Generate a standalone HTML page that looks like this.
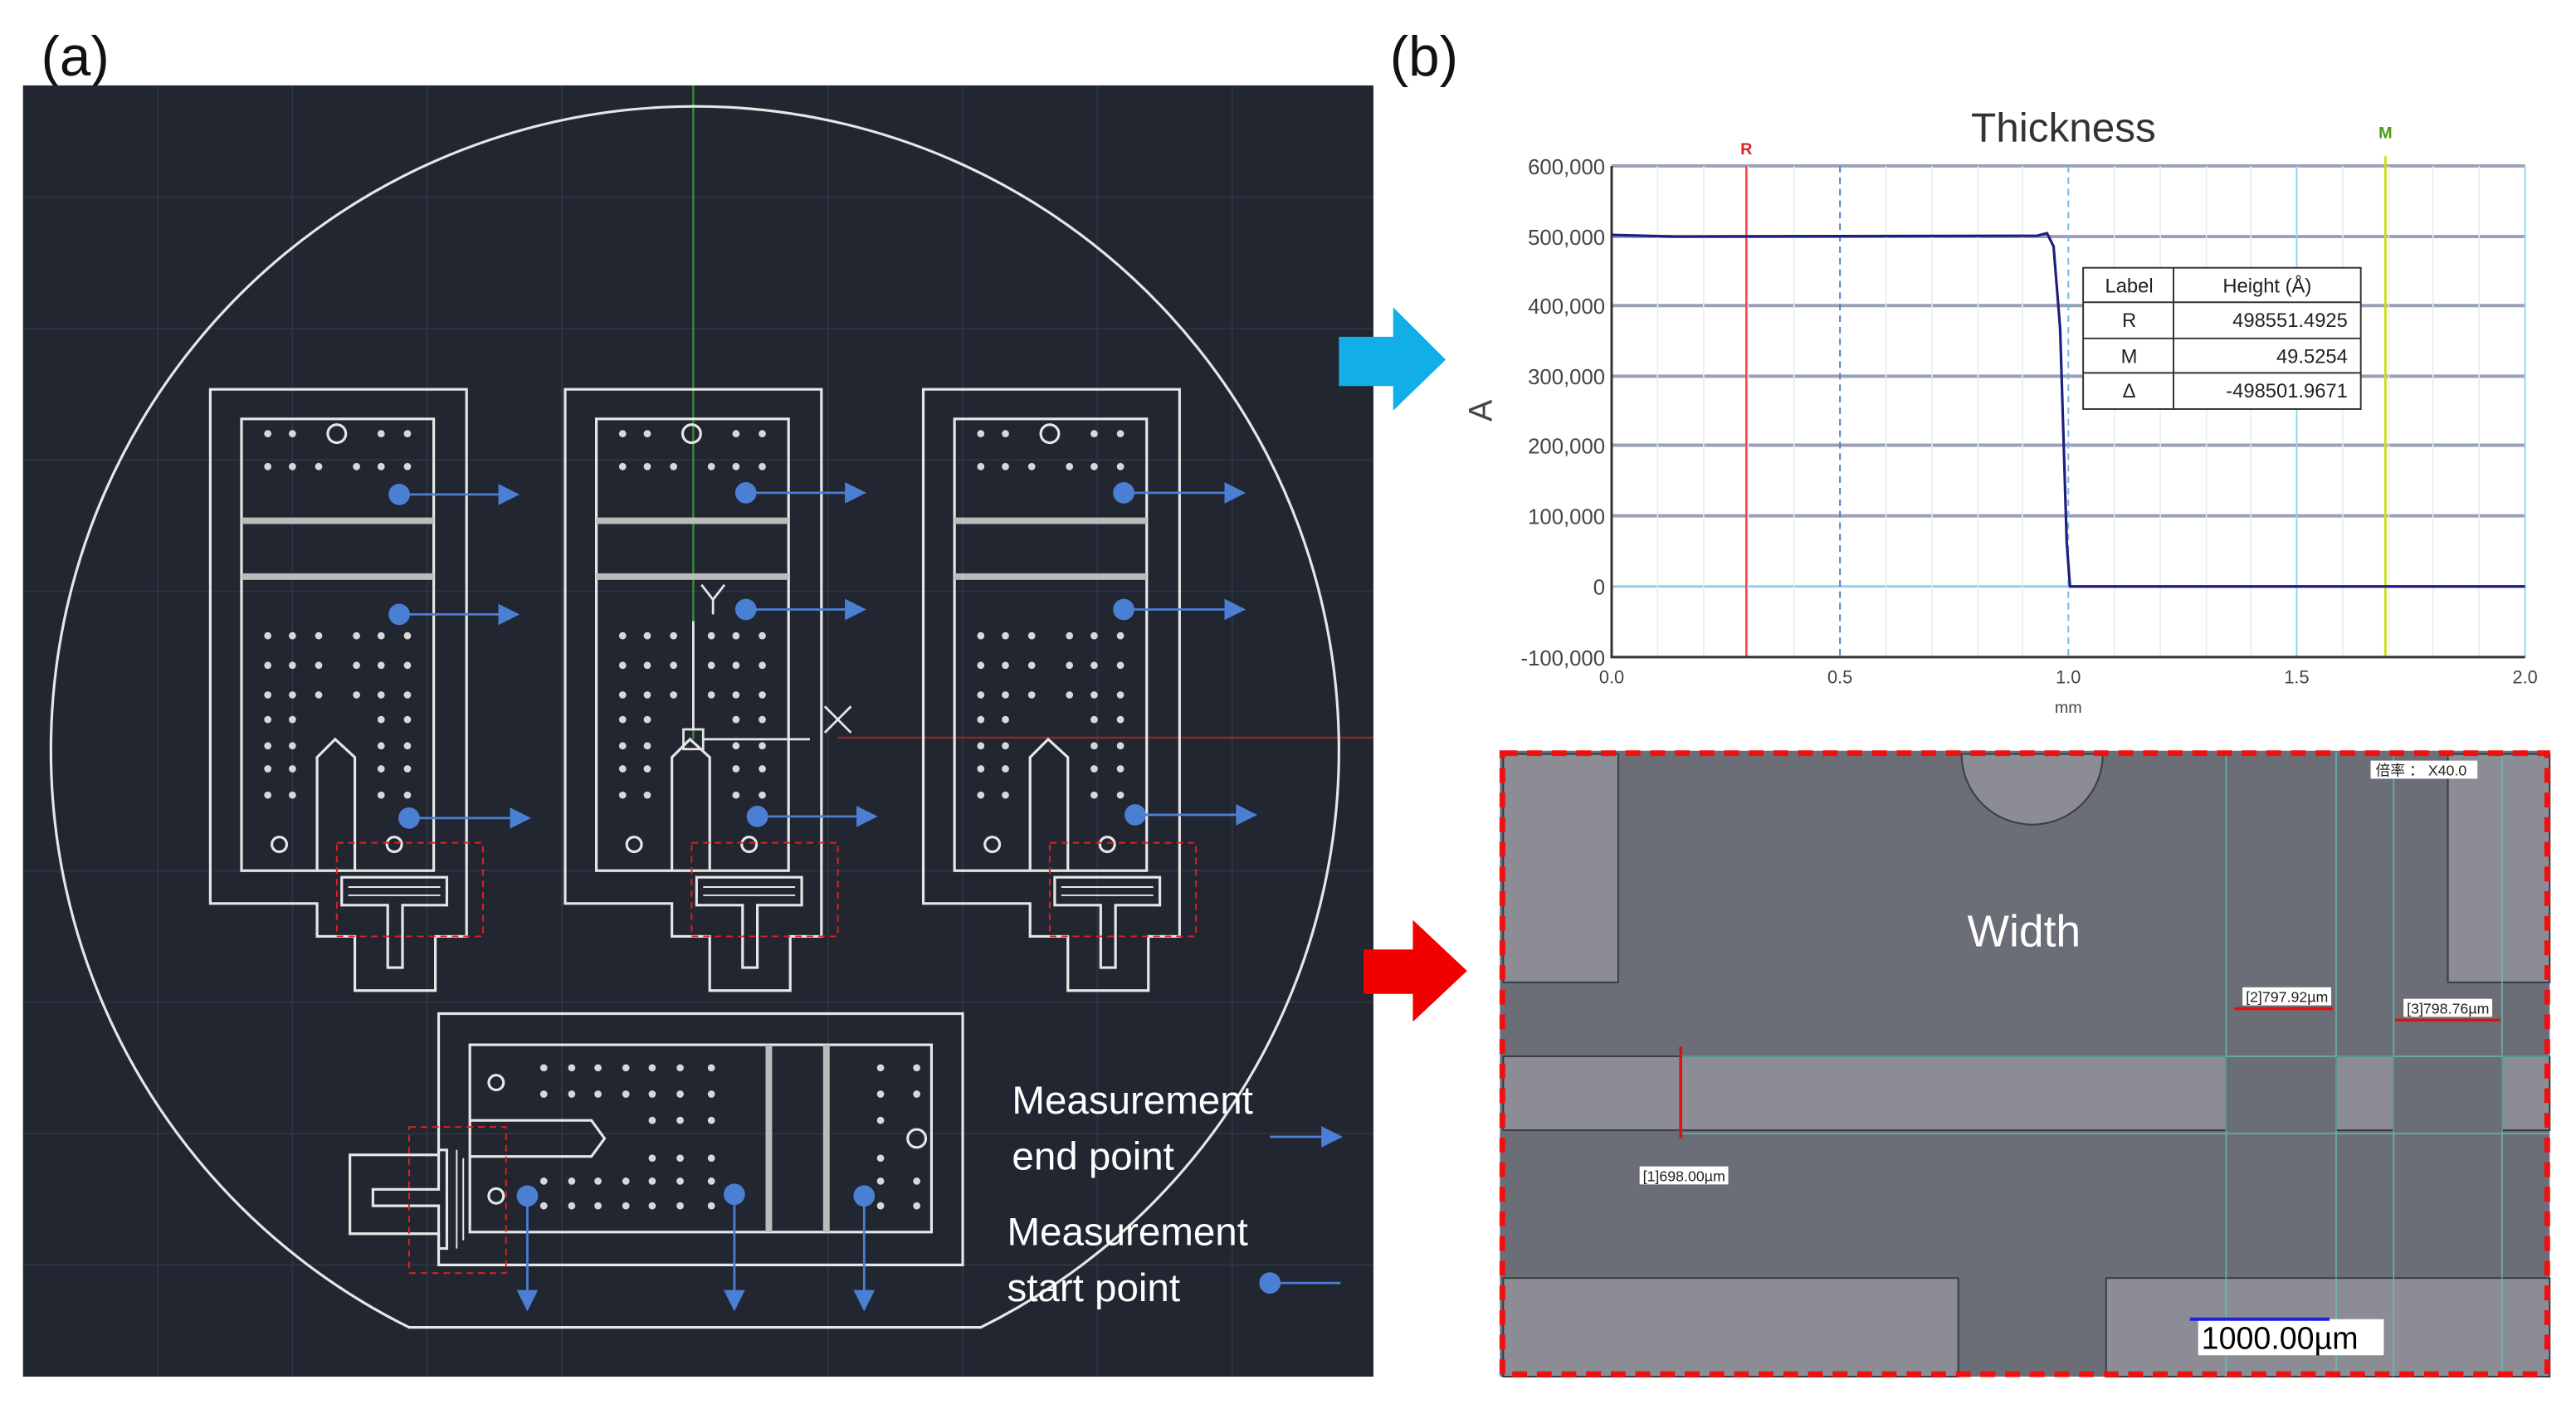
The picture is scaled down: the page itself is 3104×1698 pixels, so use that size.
<!DOCTYPE html>
<html><head><meta charset="utf-8"><style>
html,body{margin:0;padding:0;background:#fff;}
svg{display:block;}
text{font-family:"Liberation Sans","Noto Sans CJK SC",sans-serif;}
</style></head><body>
<svg width="3104" height="1698" viewBox="0 0 1568 857.7" preserveAspectRatio="none" xmlns="http://www.w3.org/2000/svg">
<defs>
<marker id="ah2" viewBox="0 0 10 10" refX="9" refY="5" markerWidth="13" markerHeight="13" markerUnits="userSpaceOnUse" orient="auto"><path d="M0,0 L10,5 L0,10 z" fill="#4a7fd4"/></marker>
<g id="dev" fill="none" stroke="#e6e6e6" stroke-width="1.6">
<polygon points="128,237 284,237 284,570 265,570 265,603 216,603 216,570 193,570 193,550 128,550"/>
<rect x="147" y="255" width="117" height="275"/>
<rect x="147" y="315" width="117" height="4" fill="#bbb" stroke="none"/>
<rect x="147" y="349" width="117" height="4" fill="#bbb" stroke="none"/>
<path d="M193 530 L193 461 L204 450 L216 461 L216 530"/>
<path d="M208 534 H272 V551 H245 V589 H236 V551 H208 Z"/>
<path d="M212 540 H268 M212 545 H268" stroke-width="1"/>
<circle cx="205" cy="264" r="5.5"/>
<circle cx="170" cy="514" r="4.5"/><circle cx="240" cy="514" r="4.5"/>
<g fill="#d8d8d8" stroke="none">
<circle cx="163" cy="264" r="2.2"/><circle cx="178" cy="264" r="2.2"/><circle cx="232" cy="264" r="2.2"/><circle cx="248" cy="264" r="2.2"/>
<circle cx="163" cy="284" r="2.2"/><circle cx="178" cy="284" r="2.2"/><circle cx="194" cy="284" r="2.2"/><circle cx="217" cy="284" r="2.2"/><circle cx="232" cy="284" r="2.2"/><circle cx="248" cy="284" r="2.2"/>
<circle cx="163" cy="387" r="2.2"/><circle cx="178" cy="387" r="2.2"/><circle cx="194" cy="387" r="2.2"/><circle cx="217" cy="387" r="2.2"/><circle cx="232" cy="387" r="2.2"/><circle cx="248" cy="387" r="2.2"/>
<circle cx="163" cy="405" r="2.2"/><circle cx="178" cy="405" r="2.2"/><circle cx="194" cy="405" r="2.2"/><circle cx="217" cy="405" r="2.2"/><circle cx="232" cy="405" r="2.2"/><circle cx="248" cy="405" r="2.2"/>
<circle cx="163" cy="423" r="2.2"/><circle cx="178" cy="423" r="2.2"/><circle cx="194" cy="423" r="2.2"/><circle cx="217" cy="423" r="2.2"/><circle cx="232" cy="423" r="2.2"/><circle cx="248" cy="423" r="2.2"/>
<circle cx="163" cy="438" r="2.2"/><circle cx="178" cy="438" r="2.2"/><circle cx="232" cy="438" r="2.2"/><circle cx="248" cy="438" r="2.2"/>
<circle cx="163" cy="454" r="2.2"/><circle cx="178" cy="454" r="2.2"/><circle cx="232" cy="454" r="2.2"/><circle cx="248" cy="454" r="2.2"/>
<circle cx="163" cy="468" r="2.2"/><circle cx="178" cy="468" r="2.2"/><circle cx="232" cy="468" r="2.2"/><circle cx="248" cy="468" r="2.2"/>
<circle cx="163" cy="484" r="2.2"/><circle cx="178" cy="484" r="2.2"/><circle cx="232" cy="484" r="2.2"/><circle cx="248" cy="484" r="2.2"/>
</g>
<rect x="205" y="513" width="89" height="57" stroke="#e02020" stroke-width="1" stroke-dasharray="4,3"/>
</g>
</defs>

<text x="25" y="46" font-size="34" fill="#111">(a)</text>
<text x="846" y="46" font-size="34" fill="#111">(b)</text>

<rect x="14" y="52" width="822" height="786" fill="#212630"/>
<g stroke="#2d3441" stroke-width="1">
<path d="M96 52V838 M178 52V838 M260 52V838 M342 52V838 M504 52V838 M586 52V838 M668 52V838 M750 52V838 M14 120H836 M14 200H836 M14 280H836 M14 360H836 M14 530H836 M14 610H836 M14 690H836 M14 770H836"/>
</g>
<line x1="422" y1="52" x2="422" y2="450" stroke="#3a8a3a" stroke-width="1.2"/>
<line x1="510" y1="449" x2="836" y2="449" stroke="#8a2a2a" stroke-width="1.2"/>
<path d="M249 808 A392 392 0 1 1 597 808 Z" fill="none" stroke="#e6e6e6" stroke-width="1.6"/>

<use href="#dev"/>
<use href="#dev" x="216"/>
<use href="#dev" x="434"/>

<g stroke="#e6e6e6" stroke-width="1.4" fill="none">
<line x1="422" y1="378" x2="422" y2="444"/>
<rect x="416" y="444" width="12" height="12"/>
<line x1="428" y1="450" x2="493" y2="450"/>
<path d="M502 430 L518 446 M518 430 L502 446"/>
<path d="M427 356 L434 365 L441 356 M434 365 V374"/>
</g>

<g fill="none" stroke="#e6e6e6" stroke-width="1.6">
<polygon points="267,617 586,617 586,770 267,770 267,751 213,751 213,703 267,703"/>
<rect x="286" y="636" width="281" height="114"/>
<rect x="466" y="636" width="4" height="114" fill="#bbb" stroke="none"/>
<rect x="501" y="636" width="4" height="114" fill="#bbb" stroke="none"/>
<path d="M286 682 H360 L368 693 L360 704 H286"/>
<path d="M227 724 H267 V700 H272 V760 H267 V734 H227 Z"/>
<path d="M278 700 V760 M282 705 V755" stroke-width="1"/>
<circle cx="302" cy="659" r="4.5"/><circle cx="302" cy="728" r="4.5"/><circle cx="558" cy="693" r="5.5"/>
<rect x="249" y="686" width="59" height="89" stroke="#e02020" stroke-width="1" stroke-dasharray="4,3"/>
</g>
<g fill="#d8d8d8">
<circle cx="331" cy="650" r="2.2"/><circle cx="348" cy="650" r="2.2"/><circle cx="364" cy="650" r="2.2"/><circle cx="381" cy="650" r="2.2"/><circle cx="397" cy="650" r="2.2"/><circle cx="414" cy="650" r="2.2"/><circle cx="433" cy="650" r="2.2"/>
<circle cx="331" cy="666" r="2.2"/><circle cx="348" cy="666" r="2.2"/><circle cx="364" cy="666" r="2.2"/><circle cx="381" cy="666" r="2.2"/><circle cx="397" cy="666" r="2.2"/><circle cx="414" cy="666" r="2.2"/><circle cx="433" cy="666" r="2.2"/>
<circle cx="397" cy="682" r="2.2"/><circle cx="414" cy="682" r="2.2"/><circle cx="433" cy="682" r="2.2"/>
<circle cx="397" cy="705" r="2.2"/><circle cx="414" cy="705" r="2.2"/><circle cx="433" cy="705" r="2.2"/>
<circle cx="331" cy="719" r="2.2"/><circle cx="348" cy="719" r="2.2"/><circle cx="364" cy="719" r="2.2"/><circle cx="381" cy="719" r="2.2"/><circle cx="397" cy="719" r="2.2"/><circle cx="414" cy="719" r="2.2"/><circle cx="433" cy="719" r="2.2"/>
<circle cx="331" cy="734" r="2.2"/><circle cx="348" cy="734" r="2.2"/><circle cx="364" cy="734" r="2.2"/><circle cx="381" cy="734" r="2.2"/><circle cx="397" cy="734" r="2.2"/><circle cx="414" cy="734" r="2.2"/><circle cx="433" cy="734" r="2.2"/>
<circle cx="536" cy="650" r="2.2"/><circle cx="558" cy="650" r="2.2"/><circle cx="536" cy="666" r="2.2"/><circle cx="558" cy="666" r="2.2"/><circle cx="536" cy="682" r="2.2"/><circle cx="536" cy="705" r="2.2"/><circle cx="536" cy="719" r="2.2"/><circle cx="558" cy="719" r="2.2"/><circle cx="536" cy="734" r="2.2"/><circle cx="558" cy="734" r="2.2"/>
</g>

<g stroke="#4a7fd4" stroke-width="1.4" marker-end="url(#ah2)">
<line x1="243" y1="301" x2="315" y2="301"/><line x1="243" y1="374" x2="315" y2="374"/><line x1="249" y1="498" x2="322" y2="498"/>
<line x1="454" y1="300" x2="526" y2="300"/><line x1="454" y1="371" x2="526" y2="371"/><line x1="461" y1="497" x2="533" y2="497"/>
<line x1="684" y1="300" x2="757" y2="300"/><line x1="684" y1="371" x2="757" y2="371"/><line x1="691" y1="496" x2="764" y2="496"/>
<line x1="321" y1="728" x2="321" y2="797"/><line x1="447" y1="727" x2="447" y2="797"/><line x1="526" y1="728" x2="526" y2="797"/>
<line x1="773" y1="692" x2="816" y2="692"/>
</g>
<g fill="#4a7fd4">
<circle cx="243" cy="301" r="6.5"/><circle cx="243" cy="374" r="6.5"/><circle cx="249" cy="498" r="6.5"/>
<circle cx="454" cy="300" r="6.5"/><circle cx="454" cy="371" r="6.5"/><circle cx="461" cy="497" r="6.5"/>
<circle cx="684" cy="300" r="6.5"/><circle cx="684" cy="371" r="6.5"/><circle cx="691" cy="496" r="6.5"/>
<circle cx="321" cy="728" r="6.5"/><circle cx="447" cy="727" r="6.5"/><circle cx="526" cy="728" r="6.5"/>
<circle cx="773" cy="781" r="6.5"/>
</g>
<line x1="773" y1="781" x2="816" y2="781" stroke="#4a7fd4" stroke-width="1.4"/>
<g fill="#fff" font-size="24">
<text x="616" y="678">Measurement</text><text x="616" y="712">end point</text>
<text x="613" y="758">Measurement</text><text x="613" y="792">start point</text>
</g>

<polygon points="815,205 848,205 848,187 880,219 848,250 848,235 815,235" fill="#12aee8"/>
<polygon points="830,578 860,578 860,560 893,591 860,622 860,605 830,605" fill="#f20000"/>

<text x="1256" y="86" font-size="25" fill="#333" text-anchor="middle">Thickness</text>
<g stroke="#9aa0b8" stroke-width="2">
<path d="M981 101H1537 M981 144H1537 M981 186H1537 M981 229H1537 M981 271H1537 M981 314H1537"/>
</g>
<line x1="981" y1="357" x2="1537" y2="357" stroke="#8fd0ee" stroke-width="1.5"/>
<g stroke="#e6ecf5" stroke-width="0.8"><path d="M1009 101V400 M1037 101V400 M1064 101V400 M1092 101V400 M1148 101V400 M1176 101V400 M1204 101V400 M1231 101V400 M1287 101V400 M1315 101V400 M1343 101V400 M1370 101V400 M1426 101V400 M1454 101V400 M1481 101V400 M1509 101V400"/></g>
<line x1="1120" y1="101" x2="1120" y2="400" stroke="#5a7fc0" stroke-width="1" stroke-dasharray="4,3"/>
<line x1="1259" y1="101" x2="1259" y2="400" stroke="#7ab8e0" stroke-width="1" stroke-dasharray="4,3"/>
<line x1="1398" y1="101" x2="1398" y2="400" stroke="#8fd8f0" stroke-width="1"/>
<line x1="1537" y1="101" x2="1537" y2="400" stroke="#8fd8f0" stroke-width="1"/>
<line x1="1063" y1="101" x2="1063" y2="400" stroke="#f04040" stroke-width="1.2"/>
<line x1="1452" y1="95" x2="1452" y2="400" stroke="#ccdd22" stroke-width="1.5"/>
<text x="1063" y="94" font-size="10" fill="#e02020" text-anchor="middle" font-weight="bold">R</text>
<text x="1452" y="84" font-size="10" fill="#4a9a10" text-anchor="middle" font-weight="bold">M</text>
<path d="M981 101V400H1537" fill="none" stroke="#333" stroke-width="1.5"/>
<path d="M981 143 L1020 144 L1240 143.5 L1246 142 L1250 150 L1254 200 L1258 330 L1260 357 L1537 357" fill="none" stroke="#1e1e80" stroke-width="1.6"/>
<g font-size="13" fill="#444" text-anchor="end">
<text x="977" y="106">600,000</text><text x="977" y="149">500,000</text><text x="977" y="191">400,000</text><text x="977" y="234">300,000</text><text x="977" y="276">200,000</text><text x="977" y="319">100,000</text><text x="977" y="362">0</text><text x="977" y="405">-100,000</text>
</g>
<g font-size="11" fill="#444" text-anchor="middle">
<text x="981" y="416">0.0</text><text x="1120" y="416">0.5</text><text x="1259" y="416">1.0</text><text x="1398" y="416">1.5</text><text x="1537" y="416">2.0</text>
<text x="1259" y="434" font-size="10">mm</text>
</g>
<text x="908" y="250" font-size="20" fill="#444" text-anchor="middle" transform="rotate(-90 908 250)">A</text>
<g>
<rect x="1268" y="163" width="169" height="86" fill="#fff" stroke="#333" stroke-width="1"/>
<path d="M1323 163V249 M1268 184H1437 M1268 206H1437 M1268 227H1437" stroke="#333" stroke-width="1"/>
<g font-size="12" fill="#222">
<text x="1296" y="178" text-anchor="middle">Label</text><text x="1380" y="178" text-anchor="middle">Height (Å)</text>
<text x="1296" y="199" text-anchor="middle">R</text><text x="1429" y="199" text-anchor="end">498551.4925</text>
<text x="1296" y="221" text-anchor="middle">M</text><text x="1429" y="221" text-anchor="end">49.5254</text>
<text x="1296" y="242" text-anchor="middle">Δ</text><text x="1429" y="242" text-anchor="end">-498501.9671</text>
</g>
</g>

<rect x="913" y="457" width="639" height="381" fill="#6c6e77"/>
<g fill="#8b8c94" stroke="#3a3c42" stroke-width="1">
<rect x="915" y="459" width="70" height="139"/>
<rect x="1490" y="459" width="62" height="139"/>
<rect x="915" y="643" width="440" height="45"/>
<rect x="1422" y="643" width="35" height="45"/>
<rect x="1523" y="643" width="29" height="45"/>
<rect x="915" y="778" width="277" height="60"/>
<rect x="1282" y="778" width="270" height="60"/>
<path d="M1194 459 A43 43 0 0 0 1280 459 Z"/>
</g>
<g stroke="#5fc8c0" stroke-width="0.8" opacity="0.8">
<path d="M1355 457V838 M1422 457V838 M1457 457V838 M1523 457V838 M1022 643H1552 M1022 690H1552"/>
</g>
<text x="1232" y="576" font-size="27" fill="#fff" text-anchor="middle">Width</text>
<g stroke="#e01010" stroke-width="1.8">
<line x1="1023" y1="637" x2="1023" y2="693"/><line x1="1360" y1="614" x2="1420" y2="614"/><line x1="1458" y1="621" x2="1522" y2="621"/>
</g>
<g fill="#fff"><rect x="998" y="710" width="54" height="11"/><rect x="1365" y="601" width="54" height="11"/><rect x="1463" y="608" width="54" height="11"/><rect x="1443" y="463" width="65" height="11"/><rect x="1338" y="803" width="113" height="22"/></g>
<g font-size="9" fill="#222"><text x="1000" y="719">[1]698.00µm</text><text x="1367" y="610">[2]797.92µm</text><text x="1465" y="617">[3]798.76µm</text><text x="1446" y="472">倍率 ： X40.0</text></g>
<line x1="1333" y1="803" x2="1418" y2="803" stroke="#2020e0" stroke-width="2"/>
<text x="1340" y="821" font-size="19" fill="#000">1000.00µm</text>
<rect x="914.5" y="458.5" width="636" height="378" fill="none" stroke="#f01010" stroke-width="3.5" stroke-dasharray="9,6"/>
</svg>
</body></html>
